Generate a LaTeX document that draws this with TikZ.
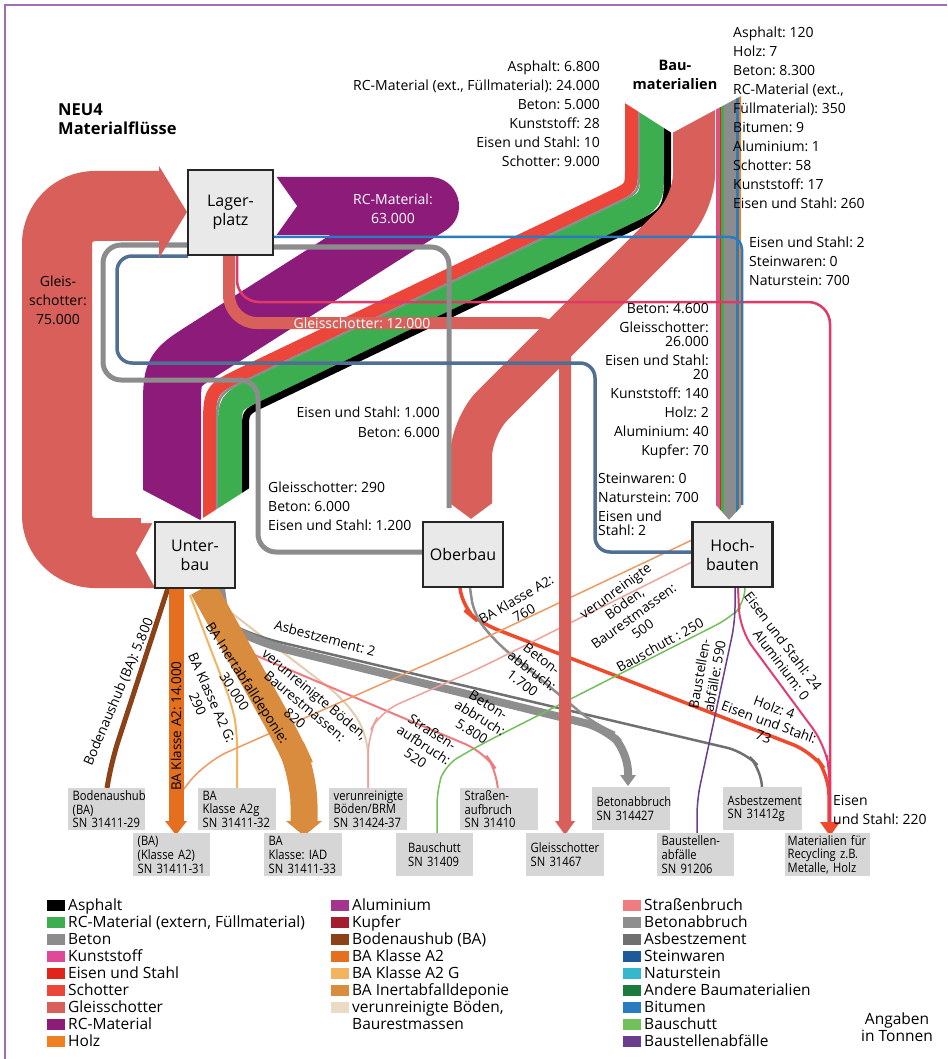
\documentclass[tikz,border=0pt]{standalone}
\usepackage{fontspec}
\setmainfont{Open Sans}
\newfontfamily\condfont{Open Sans}[FakeStretch=0.86]
\definecolor{frame}{HTML}{A36CB5}
\definecolor{gleis}{HTML}{D9605A}
\definecolor{rcmat}{HTML}{8C1B7A}
\definecolor{schotter}{HTML}{EC4539}
\definecolor{rcext}{HTML}{3DAE50}
\definecolor{beton}{HTML}{8C8C8C}
\definecolor{kunst}{HTML}{E0489A}
\definecolor{eisen}{HTML}{E2231A}
\definecolor{holz}{HTML}{F07F22}
\definecolor{alu}{HTML}{A2358E}
\definecolor{kupfer}{HTML}{A51C30}
\definecolor{boden}{HTML}{8B4216}
\definecolor{baa}{HTML}{E4701F}
\definecolor{baag}{HTML}{F2B460}
\definecolor{bainert}{HTML}{D98B3E}
\definecolor{verun}{HTML}{EADBC4}
\definecolor{strasse}{HTML}{EE7C80}
\definecolor{betab}{HTML}{8E8E8E}
\definecolor{asbest}{HTML}{707070}
\definecolor{steinw}{HTML}{1D5A9A}
\definecolor{naturst}{HTML}{36B8CC}
\definecolor{andere}{HTML}{1C7A3E}
\definecolor{bitumen}{HTML}{2A7CC0}
\definecolor{bauschutt}{HTML}{72C05A}
\definecolor{baustelle}{HTML}{6A3D8E}
\definecolor{rotorange}{HTML}{EE4A2C}
\definecolor{boxfill}{HTML}{E9E9E9}
\definecolor{tfill}{HTML}{D6D6D6}
\newcommand{\legitem}[5]{%
  \node[swatch, fill=#3] (#5-s) at (#1,#2) {};
  \node[legtext] (#5) at ({#1+12},{#2+5.3}) {#4};}
\begin{document}
\frenchspacing
\begin{tikzpicture}[x=1pt,y=-1pt,
  mainbox/.style={draw=black!85, line width=2.2pt, fill=boxfill, align=center, inner sep=0pt, font=\fontsize{16}{19}\selectfont},
  tbox/.style={fill=tfill, anchor=north west, inner xsep=4.5pt, inner ysep=0pt, align=left, font=\condfont\fontsize{13}{13.7}\selectfont},
  lbl/.style={inner sep=0pt, font=\fontsize{14}{19}\selectfont},
  lblw/.style={lbl, text=white},
  rl/.style={inner sep=0pt, align=center, font=\fontsize{13.5}{15.5}\selectfont},
  ttl/.style={inner sep=0pt, font=\bfseries\fontsize{16.5}{18.5}\selectfont},
  swatch/.style={minimum width=18pt, minimum height=11pt, inner sep=0pt},
  legtext/.style={inner sep=0pt, anchor=base west, font=\fontsize{15.5}{17}\selectfont}]
\useasboundingbox (0,0) rectangle (947,1059);
\fill[white] (0,0) rectangle (947,1059);
\draw[frame, line width=1.5pt] (5,1059) -- (5,5) -- (947,5);

% ---------- big bands ----------
\draw[gleis, line width=70pt, rounded corners=38pt] (156,553) -- (57,553) -- (57,206) -- (160,206);
\fill[white] (156.5,516) -- (136,553) -- (156.5,590) -- cycle;

\draw[rcmat, line width=58pt, line join=round] (276,206) -- (430,206) -- (205.8,348.5) .. controls (172,370) .. (172,410) -- (172,522);
\fill[white] (275,175) -- (297,206) -- (275,237) -- cycle;

% Baumaterialien -> Unterbau bundle
\draw[schotter, line width=13pt] (631.5,95) -- (631.5,168) .. controls (631.5,187.6) .. (613.8,196.1) -- (245.9,372.1) .. controls (209.5,389.6) .. (209.5,430) -- (209.5,522);
\draw[beton, line width=2.5pt] (639,95) -- (639,168) .. controls (639,192.3) .. (617.1,202.8) -- (249.2,378.9) .. controls (217,394.3) .. (217,430) -- (217,522);
\draw[rcext, line width=24pt] (652,95) -- (652,168) .. controls (652,200.5) .. (622.7,214.6) -- (254.8,390.6) .. controls (230,402.5) .. (230,430) -- (230,522);
\draw[black, line width=7pt] (667.5,95) -- (667.5,168) .. controls (667.5,210.3) .. (629.4,228.6) -- (261.5,404.6) .. controls (245.5,412.3) .. (245.5,430) -- (245.5,522);

% Baumaterialien -> Oberbau
\draw[gleis, line width=42pt, rounded corners=30pt] (694,95) -- (694,204) -- (471,427) -- (471,522);

% Baumaterialien -> Hochbauten
\draw[kunst!60!gleis, line width=3.5pt] (717.75,95) -- (717.75,522);
\draw[eisen, line width=1.5pt] (720.25,95) -- (720.25,522);
\draw[rcext, line width=3pt] (722.5,95) -- (722.5,522);
\draw[beton, line width=12pt] (730,95) -- (730,522);
\draw[bitumen, line width=3pt] (737.5,95) -- (737.5,522);
\draw[holz, line width=2pt] (740,95) -- (740,522);

% masks (arrow notches)
\fill[white] (600,60) -- (600,87) -- (672,133) -- (752,90) -- (752,60) -- cycle;
\fill[white] (141,489) -- (200,520) -- (253,486) -- (253,523) -- (141,523) -- cycle;
\fill[white] (448,502) -- (471,519) -- (494,502) -- (494,523) -- (448,523) -- cycle;
\fill[white] (714,503) -- (729,520) -- (745,503) -- (745,523) -- (714,523) -- cycle;

% ---------- outputs (bottom) ----------
% Unterbau
\draw[boden, line width=5pt, rounded corners=20pt] (168,588) -- (112,760) -- (107,788);
\draw[baag, line width=2pt, rounded corners=15pt] (190,595) -- (232,705) -- (237,730) -- (237,788);
\draw[verun!85!brown, line width=2pt, rounded corners=20pt] (212,598) -- (345,700) -- (368,735) -- (368,788);
\draw[strasse, line width=2pt, rounded corners=20pt] (214,598) -- (238,648) -- (484,752) -- (498,772) -- (498,788);
\draw[asbest, line width=2.5pt, rounded corners=18pt] (216,588) -- (220,620) -- (262,638) -- (745,752) -- (762,770) -- (762,787);
\draw[betab, line width=8pt, rounded corners=20pt] (221,588) -- (226,626) -- (268,645) -- (605,728) -- (628,752) -- (628,776);
\fill[betab] (620,775) -- (628,786) -- (636,775) -- cycle;
% Oberbau
\draw[rotorange, line width=3.5pt, rounded corners=20pt] (460,588) -- (462,608) -- (480,623) -- (812,752) -- (829,775) -- (829,824);
\draw[betab, line width=2.5pt, rounded corners=15pt] (470,588) -- (474,615) -- (496,642) -- (592,722) -- (615,733);
% Hochbauten
\draw[baa!70, line width=1.5pt, rounded corners=25pt] (692,540) -- (470,645) -- (205,762) -- (183,790);
\draw[strasse!60!verun, line width=1.5pt, rounded corners=20pt] (692,562) -- (480,668) -- (380,712) -- (368,735) -- (368,788);
\draw[bauschutt, line width=1.5pt, rounded corners=15pt] (745,588) -- (745,603) -- (730,618) -- (480,745) -- (445,765) -- (437,790) -- (437,833);
\draw[baustelle, line width=1.5pt, rounded corners=15pt] (735,588) -- (735,622) -- (697,800) -- (697,833);
\draw[kunst!70!eisen, line width=2pt, rounded corners=20pt] (738,588) -- (740,630) -- (825,745) -- (830,775) -- (830,824);
% bands to boxes
\draw[baa, line width=15pt] (176,588) -- (176,822);
\fill[baa] (165,821) -- (176,835) -- (187,821) -- cycle;
\draw[bainert, line width=27pt, rounded corners=30pt] (203,588) -- (288,740) -- (304,775) -- (304,822);
\fill[bainert] (286,821) -- (304,836) -- (322,821) -- cycle;

% ---------- flows from Lagerplatz ----------
\draw[kunst!60!eisen, line width=2.5pt, rounded corners=22pt] (237,256) -- (237,302) -- (830,302) -- (830,826);
\draw[gleis, line width=12pt, rounded corners=28pt] (229,256) -- (229,323) -- (565,323) -- (565,822);
\fill[gleis] (555,821) -- (565,835) -- (575,821) -- cycle;
\fill[rotorange] (820,822) -- (830,836) -- (840,822) -- cycle;
\draw[beton, line width=5pt, rounded corners=18pt] (274,247) -- (449,247) -- (449,508);
\draw[bitumen, line width=2.5pt, rounded corners=12pt] (274,237) -- (742,237) -- (742,505);
\draw[beton, line width=5pt, rounded corners=18pt] (188,245) -- (103,245) -- (103,380) -- (258,380) -- (258,552) -- (423,552);
\draw[steinw!55!beton, line width=3.5pt, rounded corners=15pt] (188,256) -- (117,256) -- (117,363) -- (595,363) -- (595,552) -- (692,552);
\fill[gleis] (159,166) -- (187,212) -- (159,258) -- cycle;

% ---------- main nodes ----------
\node[mainbox, minimum width=85pt, minimum height=85pt] (lager) at (230.5,212.5) {Lager-\\platz};
\node[mainbox, minimum width=80pt, minimum height=66pt] (unter) at (195,555) {Unter-\\bau};
\node[mainbox, minimum width=80pt, minimum height=65pt] (ober) at (463,554.5) {Oberbau};
\node[mainbox, minimum width=80pt, minimum height=65pt] (hoch) at (732.5,554.5) {Hoch-\\bauten};

% ---------- target boxes ----------
\node[tbox, text width=68pt, minimum height=42pt] (b1) at (68,788) {Bodenaushub\\(BA)\\SN 31411-29};
\node[tbox, text width=69pt, minimum height=42pt] (b2) at (198,788) {BA\\Klasse A2g\\SN 31411-32};
\node[tbox, text width=69pt, minimum height=42pt] (b3) at (329,788) {verunreinigte\\Böden/BRM\\SN 31424-37};
\node[tbox, text width=69pt, minimum height=42pt] (b4) at (460,788) {Straßen-\\aufbruch\\SN 31410};
\node[tbox, text width=69pt, minimum height=43pt] (b5) at (592,787) {Betonabbruch\\SN 314427};
\node[tbox, text width=70pt, minimum height=43pt] (b6) at (723,787) {Asbestzement\\SN 31412g};
\node[tbox, text width=68pt, minimum height=43pt] (c1) at (133,833) {(BA)\\(Klasse A2)\\SN 31411-31};
\node[tbox, text width=69pt, minimum height=43pt] (c2) at (264,833) {BA\\Klasse: IAD\\SN 31411-33};
\node[tbox, text width=53pt, inner xsep=12pt, minimum height=43pt] (c3) at (396,833) {Bauschutt\\SN 31409};
\node[tbox, text width=69pt, minimum height=43pt] (c4) at (526,833) {Gleisschotter\\SN 31467};
\node[tbox, text width=68pt, minimum height=43pt] (c5) at (657,833) {Baustellen-\\abfälle\\SN 91206};
\node[tbox, text width=80pt, inner xsep=2.5pt, minimum height=43pt] (c6) at (785,833) {Materialien für\\Recycling z.B.\\Metalle, Holz};

% ---------- labels ----------
\node[ttl, anchor=north west, align=left] (ttl) at (58,104) {NEU4\\Materialflüsse};
\node[ttl, anchor=north, align=center, font=\bfseries\fontsize{14.5}{19}\selectfont] (baum) at (675,60) {Bau-\\materialien};
\node[lbl, anchor=north east, align=right] (lt) at (600,60.5) {Asphalt: 6.800\\RC-Material (ext., Füllmaterial): 24.000\\Beton: 5.000\\Kunststoff: 28\\Eisen und Stahl: 10\\Schotter: 9.000};
\node[lbl, anchor=north west, align=left] (rt) at (733,26.5) {Asphalt: 120\\Holz: 7\\Beton: 8.300\\RC-Material (ext.,\\Füllmaterial): 350\\Bitumen: 9\\Aluminium: 1\\Schotter: 58\\Kunststoff: 17\\Eisen und Stahl: 260};
\node[lbl, anchor=north west, align=left] (rt2) at (749,236.5) {Eisen und Stahl: 2\\Steinwaren: 0\\Naturstein: 700};
\node[lbl, anchor=north east, align=right] (mid) at (709,303.5) {Beton: 4.600\\Gleisschotter:\\[-5pt]26.000\\Eisen und Stahl:\\[-5pt]20\\Kunststoff: 140\\Holz: 2\\Aluminium: 40\\Kupfer: 70};
\node[lbl, anchor=north west, align=left] (hs) at (598,473.5) {Steinwaren: 0\\Naturstein: 700\\Eisen und\\[-5pt]Stahl: 2};
\node[lbl, anchor=north east, align=right] (ob1) at (440,406.5) {Eisen und Stahl: 1.000\\[1pt]Beton: 6.000};
\node[lbl, anchor=north west, align=left] (ob2) at (268,481.5) {Gleisschotter: 290\\Beton: 6.000\\Eisen und Stahl: 1.200};
\node[lblw, anchor=north, align=center] (rc) at (393,193.5) {RC-Material:\\63.000};
\node[lblw, anchor=north] (gs12) at (362,317.5) {Gleisschotter: 12.000};
\node[lbl, anchor=north, align=center] (gs75) at (58,275.5) {Gleis-\\schotter:\\75.000};
\node[lbl, anchor=north west, align=left] (e220) at (833,795.5) {Eisen\\und Stahl: 220};

\node[rl, rotate=67] (r1) at (119,692) {Bodenaushub (BA): 5.800};
\node[rl, rotate=90] (r2) at (176,726) {BA Klasse A2: 14.000};
\node[rl, rotate=-66] (r3) at (205,701) {BA Klasse A2 G:\\290};
\node[rl, rotate=-57] (r4) at (241,687) {BA Inertabfalldeponie:\\30.000};
\node[rl, rotate=-40] (r5) at (305,706) {verunreinigte Böden,\\Baurestmassen:\\820};
\node[rl, rotate=-15] (r6) at (325,638) {Asbestzement: 2};
\node[rl, rotate=-33] (r7) at (424,745) {Straßen-\\aufbruch:\\520};
\node[rl, rotate=-32] (r8) at (480,718) {Beton-\\abbruch:\\5.800};
\node[rl, rotate=-38] (r9) at (532,671) {Beton-\\abbruch:\\1.700};
\node[rl, rotate=30] (r10) at (520,606) {BA Klasse A2:\\760};
\node[rl, rotate=36] (r11) at (629,610) {verunreinigte\\Böden,\\Baurestmassen:\\500};
\node[rl, rotate=29] (r12) at (660,645) {Bauschutt : 250};
\node[rl, rotate=80] (r13) at (707,675) {Baustellen-\\abfälle: 590};
\node[rl, rotate=-53, align=right] (r14) at (777,646) {Eisen und Stahl: 24\\Aluminium: 0};
\node[rl, rotate=-20] (r15) at (769,722) {Holz: 4\\Eisen und Stahl:\\73};

% ---------- legend ----------
\legitem{56}{905}{black}{Asphalt}{l1}
\legitem{56}{922}{rcext}{RC-Material (extern, Füllmaterial)}{l2}
\legitem{56}{939}{beton}{Beton}{l3}
\legitem{56}{956}{kunst}{Kunststoff}{l4}
\legitem{56}{973}{eisen}{Eisen und Stahl}{l5}
\legitem{56}{990}{schotter}{Schotter}{l6}
\legitem{56}{1007}{gleis}{Gleisschotter}{l7}
\legitem{56}{1024}{rcmat}{RC-Material}{l8}
\legitem{56}{1041}{holz}{Holz}{l9}
\legitem{340}{905}{alu}{Aluminium}{m1}
\legitem{340}{922}{kupfer}{Kupfer}{m2}
\legitem{340}{939}{boden}{Bodenaushub (BA)}{m3}
\legitem{340}{956}{baa}{BA Klasse A2}{m4}
\legitem{340}{973}{baag}{BA Klasse A2 G}{m5}
\legitem{340}{990}{bainert}{BA Inertabfalldeponie}{m6}
\legitem{340}{1007}{verun}{verunreinigte Böden,}{m7}
\node[legtext] (m8) at (352,1029.3) {Baurestmassen};
\legitem{632}{905}{strasse}{Straßenbruch}{n1}
\legitem{632}{922}{betab}{Betonabbruch}{n2}
\legitem{632}{939}{asbest}{Asbestzement}{n3}
\legitem{632}{956}{steinw}{Steinwaren}{n4}
\legitem{632}{973}{naturst}{Naturstein}{n5}
\legitem{632}{990}{andere}{Andere Baumaterialien}{n6}
\legitem{632}{1007}{bitumen}{Bitumen}{n7}
\legitem{632}{1024}{bauschutt}{Bauschutt}{n8}
\legitem{632}{1041}{baustelle}{Baustellenabfälle}{n9}
\node[inner sep=0pt, align=center, anchor=north, font=\fontsize{15.5}{17}\selectfont] (ang) at (897,1013) {Angaben\\in Tonnen};
\end{tikzpicture}
\end{document}
